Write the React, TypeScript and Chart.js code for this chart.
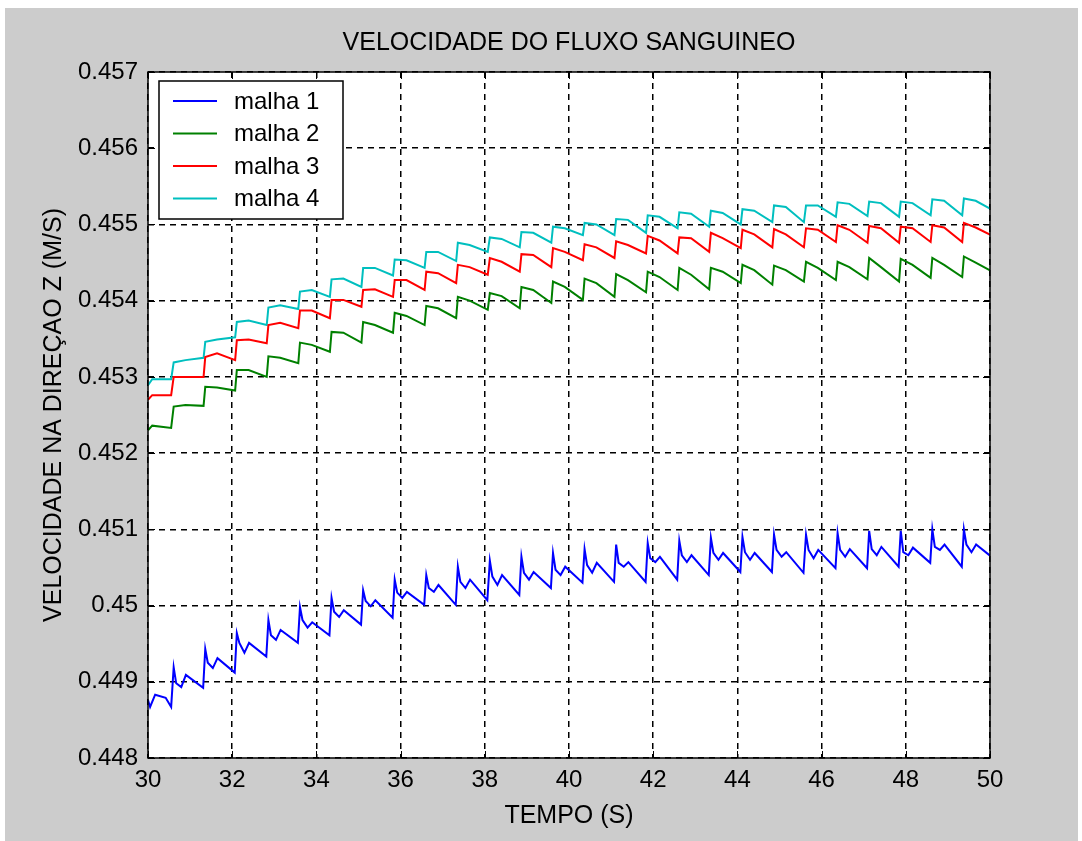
import React, { useEffect, useRef } from 'react';
import { Chart, registerables } from 'chart.js';

Chart.register(...registerables);

// ---------- text ----------
const TITLE = 'VELOCIDADE DO FLUXO SANGUINEO';
const X_TITLE = 'TEMPO (S)';
const Y_TITLE = 'VELOCIDADE NA DIREÇAO Z (M/S)';
const SERIES_NAMES = ['malha 1', 'malha 2', 'malha 3', 'malha 4'];
const SERIES_COLORS = ['#0000ff', '#008000', '#ff0000', '#00bfbf'];

// ---------- axes ----------
const X_TICKS = [30, 32, 34, 36, 38, 40, 42, 44, 46, 48, 50];
const X_TICK_LABELS = ['30', '32', '34', '36', '38', '40', '42', '44', '46', '48', '50'];
const Y_TICKS = [0.448, 0.449, 0.45, 0.451, 0.452, 0.453, 0.454, 0.455, 0.456, 0.457];
const Y_TICK_LABELS = ['0.448', '0.449', '0.45', '0.451', '0.452', '0.453', '0.454', '0.455', '0.456', '0.457'];

// ---------- time of each pulse (s) ----------
const CYCLE_T = [30.59, 31.34, 32.09, 32.84, 33.59, 34.34, 35.09, 35.84, 36.59, 37.34, 38.10, 38.85, 39.60,
  40.35, 41.10, 41.85, 42.60, 43.35, 44.10, 44.85, 45.61, 46.36, 47.11, 47.86, 48.61, 49.36];
// sample offsets inside a pulse (s): after jump, plateau, just before next jump
const UPPER_PHASE = [0.02, 0.30, 0.73];
// blue pulse: spike, drop, dip, bump, low
const BLUE_PHASE = [0.02, 0.08, 0.20, 0.31, 0.72];

// ---------- malha 1 (blue) ----------
const BLUE_INIT_T = [30.0, 30.05, 30.17, 30.42, 30.55];
const BLUE_INIT_V = [0.44876, 0.44867, 0.44883, 0.44879, 0.44867];
const BLUE_SPIKE = [0.44919, 0.44943, 0.44964, 0.44981, 0.44998, 0.45010, 0.45020, 0.45034, 0.45040, 0.45051, 0.45059, 0.45064, 0.45069,
  0.45074, 0.45080, 0.45082, 0.45085, 0.45089, 0.45090, 0.45093, 0.45093, 0.45095, 0.45098, 0.45098, 0.45100, 0.45100];
const BLUE_DROP = [0.44898, 0.44925, 0.44951, 0.44961, 0.44981, 0.44992, 0.45006, 0.45017, 0.45023, 0.45031, 0.45038, 0.45043, 0.45047,
  0.45053, 0.45056, 0.45062, 0.45066, 0.45069, 0.45070, 0.45073, 0.45073, 0.45073, 0.45074, 0.45070, 0.45077, 0.45080];
const BLUE_DIP = [0.44893, 0.44918, 0.44938, 0.44955, 0.44971, 0.44985, 0.44999, 0.45010, 0.45018, 0.45023, 0.45027, 0.45034, 0.45040,
  0.45043, 0.45051, 0.45057, 0.45057, 0.45060, 0.45060, 0.45064, 0.45062, 0.45064, 0.45066, 0.45066, 0.45073, 0.45070];
const BLUE_BUMP = [0.44909, 0.44931, 0.44951, 0.44968, 0.44978, 0.44994, 0.45007, 0.45018, 0.45027, 0.45034, 0.45040, 0.45044, 0.45051,
  0.45056, 0.45057, 0.45064, 0.45066, 0.45069, 0.45069, 0.45070, 0.45073, 0.45074, 0.45077, 0.45076, 0.45080, 0.45080];
const BLUE_LOW = [0.44892, 0.44912, 0.44933, 0.44951, 0.44961, 0.44975, 0.44984, 0.45001, 0.45001, 0.45007, 0.45014, 0.45023, 0.45030,
  0.45031, 0.45031, 0.45034, 0.45040, 0.45044, 0.45044, 0.45043, 0.45049, 0.45049, 0.45051, 0.45056, 0.45051, 0.45062];

// ---------- malha 2 (green) ----------
const UPPER_INIT_T = [30.0, 30.1, 30.55];
const GREEN_INIT_V = [0.45230, 0.45236, 0.45233];
const GREEN_PEAK = [0.45261, 0.45287, 0.45309, 0.45327, 0.45345, 0.45359, 0.45372, 0.45384, 0.45393, 0.45405, 0.45410, 0.45418, 0.45425,
  0.45429, 0.45435, 0.45438, 0.45443, 0.45443, 0.45447, 0.45446, 0.45451, 0.45451, 0.45456, 0.45455, 0.45456, 0.45458];
const GREEN_PLATEAU = [0.45263, 0.45286, 0.45309, 0.45325, 0.45342, 0.45358, 0.45368, 0.45380, 0.45390, 0.45400, 0.45406, 0.45414, 0.45418,
  0.45423, 0.45427, 0.45431, 0.45434, 0.45438, 0.45440, 0.45440, 0.45443, 0.45444, 0.45444, 0.45447, 0.45447, 0.45450];
const GREEN_TROUGH = [0.45262, 0.45282, 0.45300, 0.45318, 0.45333, 0.45345, 0.45358, 0.45368, 0.45377, 0.45388, 0.45390, 0.45397, 0.45401,
  0.45405, 0.45411, 0.45414, 0.45415, 0.45423, 0.45421, 0.45425, 0.45427, 0.45428, 0.45425, 0.45430, 0.45431, 0.45437];

// ---------- malha 3 (red) ----------
const RED_INIT_V = [0.45270, 0.45276, 0.45276];
const RED_PEAK = [0.45300, 0.45326, 0.45348, 0.45368, 0.45387, 0.45401, 0.45414, 0.45427, 0.45438, 0.45447, 0.45456, 0.45461, 0.45469,
  0.45474, 0.45478, 0.45485, 0.45483, 0.45489, 0.45493, 0.45494, 0.45495, 0.45499, 0.45498, 0.45497, 0.45499, 0.45502];
const RED_PLATEAU = [0.45300, 0.45331, 0.45349, 0.45371, 0.45387, 0.45401, 0.45415, 0.45427, 0.45436, 0.45444, 0.45451, 0.45460, 0.45464,
  0.45470, 0.45473, 0.45479, 0.45482, 0.45482, 0.45487, 0.45487, 0.45493, 0.45493, 0.45495, 0.45495, 0.45496, 0.45496];
const RED_TROUGH = [0.45300, 0.45322, 0.45344, 0.45364, 0.45377, 0.45392, 0.45405, 0.45414, 0.45423, 0.45434, 0.45438, 0.45444, 0.45453,
  0.45456, 0.45462, 0.45462, 0.45464, 0.45469, 0.45470, 0.45470, 0.45477, 0.45476, 0.45476, 0.45477, 0.45477, 0.45484];

// ---------- malha 4 (cyan) ----------
const CYAN_INIT_V = [0.45289, 0.45297, 0.45297];
const CYAN_PEAK = [0.45319, 0.45346, 0.45372, 0.45391, 0.45412, 0.45428, 0.45443, 0.45454, 0.45464, 0.45476, 0.45483, 0.45490, 0.45497,
  0.45502, 0.45507, 0.45512, 0.45516, 0.45518, 0.45520, 0.45525, 0.45525, 0.45529, 0.45530, 0.45530, 0.45533, 0.45534];
const CYAN_PLATEAU = [0.45322, 0.45349, 0.45374, 0.45394, 0.45414, 0.45429, 0.45443, 0.45453, 0.45464, 0.45473, 0.45481, 0.45489, 0.45495,
  0.45500, 0.45506, 0.45510, 0.45514, 0.45515, 0.45518, 0.45523, 0.45525, 0.45527, 0.45528, 0.45528, 0.45531, 0.45531];
const CYAN_TROUGH = [0.45325, 0.45352, 0.45368, 0.45389, 0.45405, 0.45418, 0.45433, 0.45443, 0.45452, 0.45464, 0.45470, 0.45476, 0.45486,
  0.45486, 0.45489, 0.45495, 0.45497, 0.45500, 0.45503, 0.45503, 0.45510, 0.45511, 0.45510, 0.45512, 0.45512, 0.45518];

type Pt = { x: number; y: number };

function buildPulses(initT: number[], initV: number[], phase: number[], parts: number[][]): Pt[] {
  const pts: Pt[] = initT.map((t, i) => ({ x: t, y: initV[i] }));
  CYCLE_T.forEach((t, k) => {
    phase.forEach((p, j) => {
      pts.push({ x: +(t + p).toFixed(3), y: parts[j][k] });
    });
  });
  return pts;
}

const FONT = "'Liberation Sans', Arial, Helvetica, sans-serif";

const bgPlugin = {
  id: 'bgPlugin',
  beforeDraw(chart: any) {
    const { ctx, width, height, chartArea } = chart;
    ctx.save();
    ctx.fillStyle = '#ffffff';
    ctx.fillRect(0, 0, width, height);
    ctx.fillStyle = '#cccccc';
    ctx.fillRect(5, 8, width - 9, height - 8);
    ctx.fillStyle = '#ffffff';
    ctx.fillRect(chartArea.left, chartArea.top, chartArea.right - chartArea.left, chartArea.bottom - chartArea.top);
    ctx.restore();
  },
};

const framePlugin = {
  id: 'framePlugin',
  afterDraw(chart: any) {
    const { ctx, chartArea, scales } = chart;
    const { left, right, top, bottom } = chartArea;
    ctx.save();
    ctx.strokeStyle = '#000000';
    ctx.lineWidth = 1.5;
    ctx.setLineDash([]);
    ctx.strokeRect(left, top, right - left, bottom - top);
    const tl = 7;
    ctx.lineWidth = 1;
    ctx.beginPath();
    X_TICKS.forEach((v) => {
      const x = Math.round(scales.x.getPixelForValue(v)) + 0.5;
      ctx.moveTo(x, bottom);
      ctx.lineTo(x, bottom - tl);
      ctx.moveTo(x, top);
      ctx.lineTo(x, top + tl);
    });
    Y_TICKS.forEach((v) => {
      const y = Math.round(scales.y.getPixelForValue(v)) + 0.5;
      ctx.moveTo(left, y);
      ctx.lineTo(left + tl, y);
      ctx.moveTo(right, y);
      ctx.lineTo(right - tl, y);
    });
    ctx.stroke();

    // legend box
    const bx = left + 11;
    const by = top + 9;
    const bw = 184;
    const bh = 138;
    ctx.fillStyle = '#ffffff';
    ctx.fillRect(bx, by, bw, bh);
    ctx.lineWidth = 1.5;
    ctx.strokeStyle = '#000000';
    ctx.strokeRect(bx, by, bw, bh);
    ctx.font = `24px ${FONT}`;
    ctx.textBaseline = 'middle';
    ctx.textAlign = 'left';
    chart.data.datasets.forEach((ds: any, i: number) => {
      const y = by + 20 + i * 32.5;
      ctx.strokeStyle = ds.borderColor;
      ctx.lineWidth = 2;
      ctx.beginPath();
      ctx.moveTo(bx + 14, y);
      ctx.lineTo(bx + 58, y);
      ctx.stroke();
      ctx.fillStyle = '#000000';
      ctx.fillText(ds.label, bx + 75, y + 1);
    });
    ctx.restore();
  },
};

export default function App() {
  const ref = useRef<HTMLCanvasElement | null>(null);

  useEffect(() => {
    if (!ref.current) return;
    const seriesPts = [
      buildPulses(BLUE_INIT_T, BLUE_INIT_V, BLUE_PHASE, [BLUE_SPIKE, BLUE_DROP, BLUE_DIP, BLUE_BUMP, BLUE_LOW]),
      buildPulses(UPPER_INIT_T, GREEN_INIT_V, UPPER_PHASE, [GREEN_PEAK, GREEN_PLATEAU, GREEN_TROUGH]),
      buildPulses(UPPER_INIT_T, RED_INIT_V, UPPER_PHASE, [RED_PEAK, RED_PLATEAU, RED_TROUGH]),
      buildPulses(UPPER_INIT_T, CYAN_INIT_V, UPPER_PHASE, [CYAN_PEAK, CYAN_PLATEAU, CYAN_TROUGH]),
    ];
    const chart = new Chart(ref.current, {
      type: 'line',
      data: {
        datasets: seriesPts.map((pts, i) => ({
          label: SERIES_NAMES[i],
          data: pts,
          borderColor: SERIES_COLORS[i],
          backgroundColor: SERIES_COLORS[i],
          borderWidth: 2,
          pointRadius: 0,
          tension: 0,
          fill: false,
        })),
      },
      options: {
        animation: false,
        responsive: false,
        events: [],
        layout: { padding: { left: 0, top: 0, right: 92, bottom: 0 } },
        plugins: {
          legend: { display: false },
          tooltip: { enabled: false },
          title: {
            display: true,
            text: TITLE,
            fullSize: false,
            color: '#000000',
            font: { family: FONT, size: 25, weight: 'normal' as any, lineHeight: 1.2 },
            padding: { top: 28, bottom: 14 },
          },
        },
        scales: {
          x: {
            type: 'linear',
            min: 30,
            max: 50,
            afterBuildTicks: (scale: any) => {
              scale.ticks = X_TICKS.map((v) => ({ value: v }));
            },
            afterFit: (scale: any) => {
              scale.height = 83;
              scale.paddingLeft = 0;
              scale.paddingRight = 0;
            },
            ticks: {
              autoSkip: false,
              maxRotation: 0,
              padding: 8,
              color: '#000000',
              font: { family: FONT, size: 24 },
              callback: (_v: any, i: number) => X_TICK_LABELS[i],
            },
            grid: { color: '#000000', lineWidth: 1.5, drawTicks: false },
            border: { display: false, dash: [6, 5] },
            title: {
              display: true,
              text: X_TITLE,
              color: '#000000',
              font: { family: FONT, size: 25, lineHeight: 1.2 },
              padding: { top: 0, bottom: 10 },
            },
          },
          y: {
            type: 'linear',
            min: 0.448,
            max: 0.457,
            afterBuildTicks: (scale: any) => {
              scale.ticks = Y_TICKS.map((v) => ({ value: v }));
            },
            afterFit: (scale: any) => {
              scale.width = 148;
              scale.paddingTop = 0;
              scale.paddingBottom = 0;
            },
            ticks: {
              autoSkip: false,
              padding: 10,
              color: '#000000',
              font: { family: FONT, size: 24 },
              callback: (_v: any, i: number) => Y_TICK_LABELS[i],
            },
            grid: { color: '#000000', lineWidth: 1.5, drawTicks: false },
            border: { display: false, dash: [6, 5] },
            title: {
              display: true,
              text: Y_TITLE,
              color: '#000000',
              font: { family: FONT, size: 25, lineHeight: 1.2 },
              padding: { top: 39, bottom: 0 },
            },
          },
        },
      },
      plugins: [bgPlugin, framePlugin],
    });
    return () => chart.destroy();
  }, []);

  return (
    <canvas
      ref={ref}
      width={1082}
      height={841}
      style={{ position: 'absolute', left: 0, top: 0, display: 'block' }}
    />
  );
}
